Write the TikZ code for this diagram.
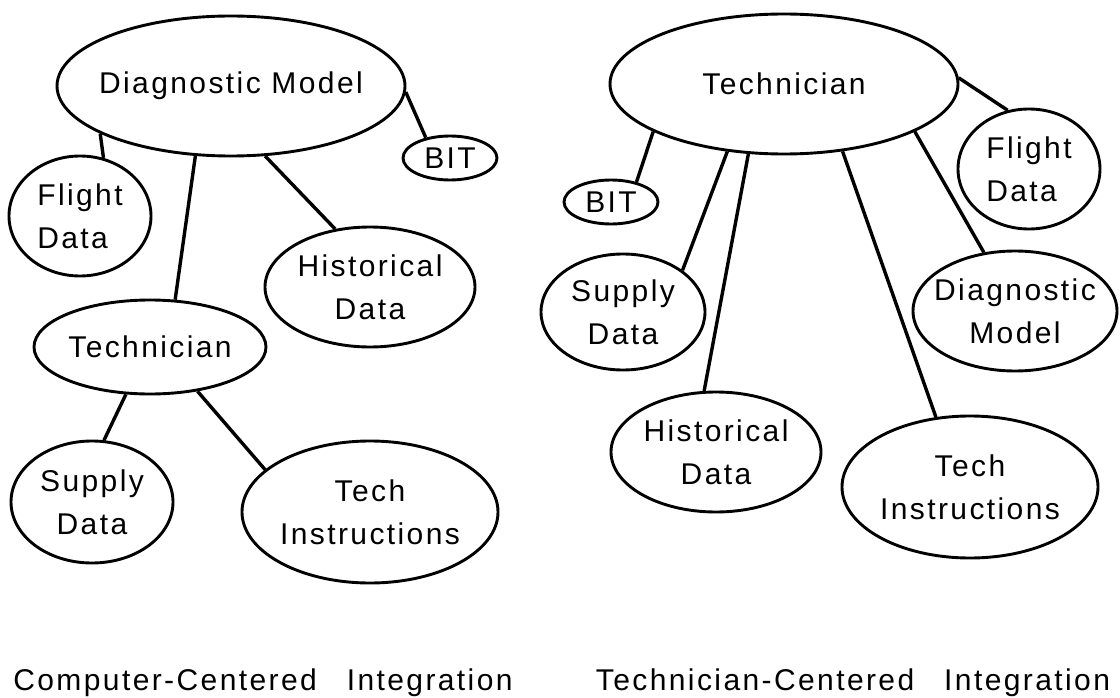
\documentclass[tikz,border=0pt]{standalone}
\usepackage{fontspec}
\setmainfont{Liberation Sans}[LetterSpace=8]
\usetikzlibrary{shapes.geometric}

\begin{document}
\begin{tikzpicture}[
    x=1pt, y=-1pt,
    bubble/.style 2 args={ellipse, draw, line width=2.9pt, minimum width=#1pt, minimum height=#2pt, inner sep=-20pt, align=center, font=\fontsize{30}{43}\selectfont},
    link/.style={draw, line width=3.4pt},
    caption/.style={anchor=base, font=\fontsize{30}{36}\selectfont}
]
\useasboundingbox (0,0) rectangle (1120,698);

% Computer-centered side
\node[bubble={348}{140}] (dmL) at (231,86) {Diagnostic Model};
\node[bubble={94}{44}] (bitL) at (450,158) {BIT};
\node[bubble={142}{120}, align=left] (flightL) at (80,216) {Flight\\Data};
\node[bubble={210}{120}] (histL) at (370,287) {Historical\\Data};
\node[bubble={232}{94}] (techL) at (150,347) {Technician};
\node[bubble={162}{122}] (supplyL) at (92,502) {Supply\\Data};
\node[bubble={256}{142}] (instrL) at (370,512) {Tech\\Instructions};

% Technician-centered side
\node[bubble={348}{140}] (techR) at (784,84) {Technician};
\node[bubble={142}{120}, align=left] (flightR) at (1029,169) {Flight\\Data};
\node[bubble={94}{44}] (bitR) at (611,202) {BIT};
\node[bubble={164}{116}] (supplyR) at (623,312) {Supply\\Data};
\node[bubble={204}{120}] (diagR) at (1015,311) {Diagnostic\\Model};
\node[bubble={210}{120}] (histR) at (716,452) {Historical\\Data};
\node[bubble={256}{142}] (instrR) at (970,487) {Tech\\Instructions};

% Links
\draw[link] (dmL.358) -- (bitL.140);
\draw[link] (dmL.200) -- (flightL.68);
\draw[link] (dmL.243) -- (techL.62);
\draw[link] (dmL.296) -- (histL.121);
\draw[link] (techL.243) -- (supplyL.79);
\draw[link] (techL.317) -- (instrL.158);

\draw[link] (techR.200) -- (bitR.38);
\draw[link] (techR.230) -- (supplyR.35);
\draw[link] (techR.243) -- (histR.101);
\draw[link] (techR.311) -- (instrR.116);
\draw[link] (techR.340) -- (diagR.118);
\draw[link] (techR.2) -- (flightR.110);

% Captions
\node[caption] (capL) at (263,690) {Computer-Centered\hspace{1em}Integration};
\node[caption] (capR) at (853,690) {Technician-Centered\hspace{1em}Integration};

\end{tikzpicture}
\end{document}
